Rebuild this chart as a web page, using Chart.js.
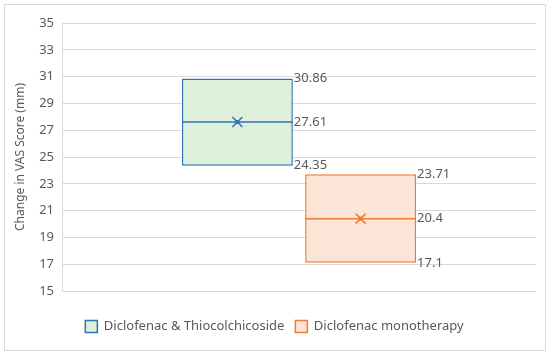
<!DOCTYPE html>
<html lang="en">
<head>
    <meta charset="UTF-8">
    <title>Change in VAS Score</title>
    <script src="https://cdn.jsdelivr.net/npm/chart.js"></script>
    <style>
        body {
            margin: 0;
            background: #fff;
            font-family: "Noto Sans", Arial, sans-serif;
        }
        .chart-container {
            width: 550px;
            height: 357px;
        }
    </style>
</head>
<body>
    <div class="chart-container">
        <canvas id="vasChart" width="550" height="357"></canvas>
    </div>
    <script>
        // Data
        const groups = ['Diclofenac & Thiocolchicoside', 'Diclofenac monotherapy'];
        const q1 = [24.35, 17.1];
        const q3 = [30.86, 23.71];
        const medians = [27.61, 20.4];
        const means = [27.61, 20.4];
        const yTicks = [15, 17, 19, 21, 23, 25, 27, 29, 31, 33, 35];

        const borderColors = ['#2E75B6', '#ED7D31'];
        const fillColors = ['#DEEFDB', '#FCE4D6'];
        const textColor = '#595959';
        const fontFamily = '"Noto Sans", Arial, sans-serif';

        // outer frame of the chart
        const framePlugin = {
            id: 'frame',
            beforeDraw(chart) {
                const ctx = chart.ctx;
                ctx.save();
                ctx.fillStyle = '#fff';
                ctx.fillRect(0, 0, chart.width, chart.height);
                ctx.strokeStyle = '#D9D9D9';
                ctx.lineWidth = 1;
                ctx.strokeRect(4.5, 4.5, 541, 346);
                ctx.restore();
            }
        };

        // median line, mean marker and value labels on each box
        const boxPlugin = {
            id: 'boxExtras',
            afterDatasetsDraw(chart) {
                const ctx = chart.ctx;
                const yScale = chart.scales.y;
                ctx.save();
                chart.data.datasets.forEach((ds, i) => {
                    const bar = chart.getDatasetMeta(i).data[0];
                    if (!bar) return;
                    const left = bar.x - bar.width / 2;
                    const right = bar.x + bar.width / 2;
                    const yMed = yScale.getPixelForValue(medians[i]);
                    const yMean = yScale.getPixelForValue(means[i]);

                    ctx.strokeStyle = borderColors[i];
                    ctx.lineWidth = 1.5;
                    ctx.beginPath();
                    ctx.moveTo(left, yMed);
                    ctx.lineTo(right, yMed);
                    ctx.stroke();

                    const s = 5;
                    ctx.lineWidth = 1.5;
                    ctx.beginPath();
                    ctx.moveTo(bar.x - s, yMean - s);
                    ctx.lineTo(bar.x + s, yMean + s);
                    ctx.moveTo(bar.x - s, yMean + s);
                    ctx.lineTo(bar.x + s, yMean - s);
                    ctx.stroke();
                    ctx.fillStyle = borderColors[i];
                    ctx.fillRect(bar.x - 2, yMean - 2, 4, 4);

                    ctx.fillStyle = textColor;
                    ctx.font = '13px ' + fontFamily;
                    ctx.textAlign = 'left';
                    ctx.textBaseline = 'middle';
                    [q3[i], medians[i], q1[i]].forEach(v => {
                        ctx.fillText(String(v), right + 1, yScale.getPixelForValue(v));
                    });
                });
                ctx.restore();
            }
        };

        const ctx = document.getElementById('vasChart').getContext('2d');
        new Chart(ctx, {
            type: 'bar',
            data: {
                labels: [''],
                datasets: groups.map((name, i) => ({
                    label: name,
                    data: [[q1[i], q3[i]]],
                    backgroundColor: fillColors[i],
                    borderColor: borderColors[i],
                    borderWidth: 1.5,
                    borderSkipped: false
                }))
            },
            options: {
                responsive: false,
                animation: false,
                devicePixelRatio: 1,
                categoryPercentage: 0.52,
                barPercentage: 0.9,
                layout: {
                    padding: { left: 13, right: 14, top: 23, bottom: 14 }
                },
                plugins: {
                    legend: {
                        position: 'bottom',
                        labels: {
                            color: textColor,
                            font: { family: fontFamily, size: 13 },
                            boxWidth: 12,
                            boxHeight: 12,
                            padding: 11
                        }
                    },
                    tooltip: { enabled: false }
                },
                scales: {
                    x: {
                        grid: { display: false },
                        ticks: { display: false },
                        border: { display: false },
                        afterFit(axis) {
                            axis.height = 18;
                        }
                    },
                    y: {
                        min: 15,
                        max: 35,
                        afterBuildTicks(axis) {
                            axis.ticks = yTicks.map(v => ({ value: v }));
                        },
                        afterFit(axis) {
                            axis.width = 49;
                        },
                        grid: { color: '#D9D9D9', drawTicks: false },
                        border: { display: true, color: '#D9D9D9' },
                        ticks: {
                            color: textColor,
                            padding: 8,
                            font: { family: fontFamily, size: 13 }
                        },
                        title: {
                            display: true,
                            text: 'Change in VAS Score (mm)',
                            color: textColor,
                            font: { family: fontFamily, size: 12 },
                            padding: { top: 0, bottom: 4 }
                        }
                    }
                }
            },
            plugins: [framePlugin, boxPlugin]
        });
    </script>
</body>
</html>
